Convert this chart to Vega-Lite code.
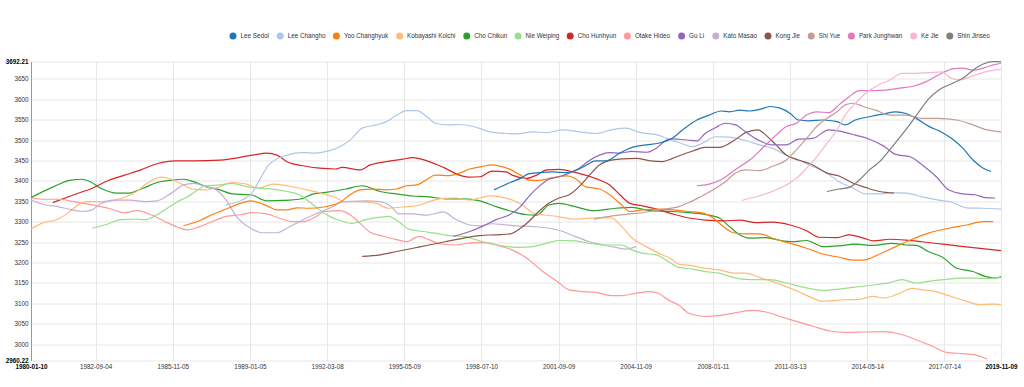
{
"$schema":"https://vega.github.io/schema/vega-lite/v6.json",
"width":970,"height":299,
"autosize":{"type":"none"},
"padding":{"left":31,"top":61.5,"right":23,"bottom":26.5},
"background":"white",
"config":{"view":{"stroke":null},"font":"Liberation Sans"},
"data":{"values":[
{"name":"Cho Chikun","date":"1980-01-10","elo":3359},{"name":"Cho Chikun","date":"1980-12-15","elo":3386},{"name":"Cho Chikun","date":"1981-08-15","elo":3401},{"name":"Cho Chikun","date":"1982-02-15","elo":3404},{"name":"Cho Chikun","date":"1982-06-15","elo":3398},{"name":"Cho Chikun","date":"1982-12-15","elo":3380},{"name":"Cho Chikun","date":"1983-07-15","elo":3370},{"name":"Cho Chikun","date":"1984-01-15","elo":3370},{"name":"Cho Chikun","date":"1984-08-15","elo":3382},{"name":"Cho Chikun","date":"1985-03-15","elo":3396},{"name":"Cho Chikun","date":"1985-09-15","elo":3401},{"name":"Cho Chikun","date":"1986-04-15","elo":3404},{"name":"Cho Chikun","date":"1986-09-15","elo":3398},{"name":"Cho Chikun","date":"1987-03-15","elo":3386},{"name":"Cho Chikun","date":"1987-10-15","elo":3378},{"name":"Cho Chikun","date":"1988-04-15","elo":3368},{"name":"Cho Chikun","date":"1989-01-15","elo":3366},{"name":"Cho Chikun","date":"1989-09-15","elo":3351},{"name":"Cho Chikun","date":"1990-05-15","elo":3352},{"name":"Cho Chikun","date":"1991-01-15","elo":3355},{"name":"Cho Chikun","date":"1991-08-15","elo":3368},{"name":"Cho Chikun","date":"1992-02-15","elo":3372},{"name":"Cho Chikun","date":"1992-12-15","elo":3380},{"name":"Cho Chikun","date":"1993-08-15","elo":3388},{"name":"Cho Chikun","date":"1994-05-15","elo":3374},{"name":"Cho Chikun","date":"1995-01-15","elo":3368},{"name":"Cho Chikun","date":"1995-09-15","elo":3363},{"name":"Cho Chikun","date":"1996-05-15","elo":3361},{"name":"Cho Chikun","date":"1997-01-15","elo":3356},{"name":"Cho Chikun","date":"1997-10-15","elo":3356},{"name":"Cho Chikun","date":"1998-06-15","elo":3351},{"name":"Cho Chikun","date":"1999-02-15","elo":3337},{"name":"Cho Chikun","date":"1999-10-15","elo":3325},{"name":"Cho Chikun","date":"2000-05-15","elo":3317},{"name":"Cho Chikun","date":"2000-10-15","elo":3316},{"name":"Cho Chikun","date":"2001-04-15","elo":3341},{"name":"Cho Chikun","date":"2001-09-15","elo":3345},{"name":"Cho Chikun","date":"2002-05-15","elo":3337},{"name":"Cho Chikun","date":"2003-02-15","elo":3327},{"name":"Cho Chikun","date":"2004-01-15","elo":3333},{"name":"Cho Chikun","date":"2004-09-15","elo":3335},{"name":"Cho Chikun","date":"2005-06-15","elo":3327},{"name":"Cho Chikun","date":"2006-05-15","elo":3325},{"name":"Cho Chikun","date":"2007-01-15","elo":3322},{"name":"Cho Chikun","date":"2007-09-15","elo":3318},{"name":"Cho Chikun","date":"2008-04-15","elo":3309},{"name":"Cho Chikun","date":"2008-09-15","elo":3288},{"name":"Cho Chikun","date":"2009-02-15","elo":3268},{"name":"Cho Chikun","date":"2009-07-15","elo":3260},{"name":"Cho Chikun","date":"2010-03-15","elo":3261},{"name":"Cho Chikun","date":"2010-10-15","elo":3254},{"name":"Cho Chikun","date":"2011-04-15","elo":3251},{"name":"Cho Chikun","date":"2011-11-15","elo":3254},{"name":"Cho Chikun","date":"2012-07-15","elo":3239},{"name":"Cho Chikun","date":"2013-03-15","elo":3241},{"name":"Cho Chikun","date":"2013-11-15","elo":3245},{"name":"Cho Chikun","date":"2014-08-15","elo":3242},{"name":"Cho Chikun","date":"2015-05-15","elo":3247},{"name":"Cho Chikun","date":"2015-12-15","elo":3243},{"name":"Cho Chikun","date":"2016-05-15","elo":3242},{"name":"Cho Chikun","date":"2016-11-15","elo":3227},{"name":"Cho Chikun","date":"2017-06-15","elo":3213},{"name":"Cho Chikun","date":"2018-01-15","elo":3186},{"name":"Cho Chikun","date":"2018-09-15","elo":3178},{"name":"Cho Chikun","date":"2019-03-15","elo":3166},{"name":"Cho Chikun","date":"2019-08-15","elo":3162},{"name":"Cho Chikun","date":"2019-11-09","elo":3166},
{"name":"Cho Hunhyun","date":"1980-12-01","elo":3347},{"name":"Cho Hunhyun","date":"1981-10-15","elo":3366},{"name":"Cho Hunhyun","date":"1982-07-15","elo":3382},{"name":"Cho Hunhyun","date":"1983-03-15","elo":3401},{"name":"Cho Hunhyun","date":"1983-11-15","elo":3414},{"name":"Cho Hunhyun","date":"1984-07-15","elo":3427},{"name":"Cho Hunhyun","date":"1985-03-15","elo":3442},{"name":"Cho Hunhyun","date":"1985-12-15","elo":3449},{"name":"Cho Hunhyun","date":"1986-09-15","elo":3449},{"name":"Cho Hunhyun","date":"1987-10-15","elo":3451},{"name":"Cho Hunhyun","date":"1989-02-15","elo":3463},{"name":"Cho Hunhyun","date":"1989-09-15","elo":3468},{"name":"Cho Hunhyun","date":"1990-02-15","elo":3463},{"name":"Cho Hunhyun","date":"1990-07-15","elo":3447},{"name":"Cho Hunhyun","date":"1991-03-15","elo":3437},{"name":"Cho Hunhyun","date":"1991-11-15","elo":3431},{"name":"Cho Hunhyun","date":"1992-07-15","elo":3429},{"name":"Cho Hunhyun","date":"1992-10-15","elo":3433},{"name":"Cho Hunhyun","date":"1993-07-15","elo":3427},{"name":"Cho Hunhyun","date":"1993-12-15","elo":3439},{"name":"Cho Hunhyun","date":"1994-08-15","elo":3447},{"name":"Cho Hunhyun","date":"1995-04-15","elo":3453},{"name":"Cho Hunhyun","date":"1995-09-15","elo":3457},{"name":"Cho Hunhyun","date":"1996-04-15","elo":3449},{"name":"Cho Hunhyun","date":"1996-12-15","elo":3433},{"name":"Cho Hunhyun","date":"1997-08-15","elo":3414},{"name":"Cho Hunhyun","date":"1998-01-15","elo":3409},{"name":"Cho Hunhyun","date":"1998-06-15","elo":3410},{"name":"Cho Hunhyun","date":"1998-12-15","elo":3424},{"name":"Cho Hunhyun","date":"1999-07-15","elo":3422},{"name":"Cho Hunhyun","date":"1999-10-15","elo":3414},{"name":"Cho Hunhyun","date":"2000-05-15","elo":3406},{"name":"Cho Hunhyun","date":"2000-10-15","elo":3414},{"name":"Cho Hunhyun","date":"2001-03-15","elo":3427},{"name":"Cho Hunhyun","date":"2001-09-15","elo":3428},{"name":"Cho Hunhyun","date":"2002-04-15","elo":3422},{"name":"Cho Hunhyun","date":"2002-10-15","elo":3414},{"name":"Cho Hunhyun","date":"2003-05-15","elo":3402},{"name":"Cho Hunhyun","date":"2003-10-15","elo":3390},{"name":"Cho Hunhyun","date":"2004-03-15","elo":3366},{"name":"Cho Hunhyun","date":"2004-08-15","elo":3345},{"name":"Cho Hunhyun","date":"2005-02-15","elo":3339},{"name":"Cho Hunhyun","date":"2005-09-15","elo":3331},{"name":"Cho Hunhyun","date":"2006-05-15","elo":3319},{"name":"Cho Hunhyun","date":"2007-01-15","elo":3309},{"name":"Cho Hunhyun","date":"2007-09-15","elo":3304},{"name":"Cho Hunhyun","date":"2008-06-15","elo":3302},{"name":"Cho Hunhyun","date":"2009-02-15","elo":3304},{"name":"Cho Hunhyun","date":"2009-10-15","elo":3298},{"name":"Cho Hunhyun","date":"2010-06-15","elo":3299},{"name":"Cho Hunhyun","date":"2011-03-15","elo":3292},{"name":"Cho Hunhyun","date":"2011-11-15","elo":3278},{"name":"Cho Hunhyun","date":"2012-05-15","elo":3262},{"name":"Cho Hunhyun","date":"2013-02-15","elo":3261},{"name":"Cho Hunhyun","date":"2013-08-15","elo":3268},{"name":"Cho Hunhyun","date":"2014-03-15","elo":3260},{"name":"Cho Hunhyun","date":"2014-08-15","elo":3253},{"name":"Cho Hunhyun","date":"2015-04-15","elo":3257},{"name":"Cho Hunhyun","date":"2015-12-15","elo":3255},{"name":"Cho Hunhyun","date":"2016-08-15","elo":3251},{"name":"Cho Hunhyun","date":"2018-01-15","elo":3241},{"name":"Cho Hunhyun","date":"2019-11-09","elo":3229},
{"name":"Otake Hideo","date":"1980-01-10","elo":3358},{"name":"Otake Hideo","date":"1980-08-15","elo":3355},{"name":"Otake Hideo","date":"1981-02-15","elo":3355},{"name":"Otake Hideo","date":"1981-10-15","elo":3349},{"name":"Otake Hideo","date":"1982-07-15","elo":3341},{"name":"Otake Hideo","date":"1983-03-15","elo":3333},{"name":"Otake Hideo","date":"1983-11-15","elo":3322},{"name":"Otake Hideo","date":"1984-05-15","elo":3327},{"name":"Otake Hideo","date":"1984-12-15","elo":3317},{"name":"Otake Hideo","date":"1985-07-15","elo":3300},{"name":"Otake Hideo","date":"1986-01-15","elo":3287},{"name":"Otake Hideo","date":"1986-06-15","elo":3280},{"name":"Otake Hideo","date":"1986-12-15","elo":3288},{"name":"Otake Hideo","date":"1987-06-15","elo":3300},{"name":"Otake Hideo","date":"1988-01-15","elo":3313},{"name":"Otake Hideo","date":"1988-08-15","elo":3317},{"name":"Otake Hideo","date":"1989-02-15","elo":3322},{"name":"Otake Hideo","date":"1989-09-15","elo":3319},{"name":"Otake Hideo","date":"1990-03-15","elo":3309},{"name":"Otake Hideo","date":"1990-10-15","elo":3300},{"name":"Otake Hideo","date":"1991-03-15","elo":3300},{"name":"Otake Hideo","date":"1991-08-15","elo":3309},{"name":"Otake Hideo","date":"1992-02-15","elo":3325},{"name":"Otake Hideo","date":"1992-09-15","elo":3327},{"name":"Otake Hideo","date":"1993-02-15","elo":3317},{"name":"Otake Hideo","date":"1993-07-15","elo":3296},{"name":"Otake Hideo","date":"1993-12-15","elo":3274},{"name":"Otake Hideo","date":"1994-06-15","elo":3265},{"name":"Otake Hideo","date":"1995-01-15","elo":3256},{"name":"Otake Hideo","date":"1995-06-15","elo":3251},{"name":"Otake Hideo","date":"1995-12-15","elo":3264},{"name":"Otake Hideo","date":"1996-05-15","elo":3256},{"name":"Otake Hideo","date":"1996-10-15","elo":3246},{"name":"Otake Hideo","date":"1997-06-15","elo":3243},{"name":"Otake Hideo","date":"1998-03-15","elo":3249},{"name":"Otake Hideo","date":"1998-09-15","elo":3249},{"name":"Otake Hideo","date":"1999-05-15","elo":3239},{"name":"Otake Hideo","date":"1999-09-15","elo":3233},{"name":"Otake Hideo","date":"2000-05-15","elo":3211},{"name":"Otake Hideo","date":"2001-01-15","elo":3178},{"name":"Otake Hideo","date":"2001-08-15","elo":3154},{"name":"Otake Hideo","date":"2002-02-15","elo":3133},{"name":"Otake Hideo","date":"2002-09-15","elo":3129},{"name":"Otake Hideo","date":"2003-03-15","elo":3127},{"name":"Otake Hideo","date":"2003-11-15","elo":3119},{"name":"Otake Hideo","date":"2004-04-15","elo":3119},{"name":"Otake Hideo","date":"2004-11-15","elo":3125},{"name":"Otake Hideo","date":"2005-06-15","elo":3129},{"name":"Otake Hideo","date":"2005-10-15","elo":3125},{"name":"Otake Hideo","date":"2006-03-15","elo":3108},{"name":"Otake Hideo","date":"2006-08-15","elo":3096},{"name":"Otake Hideo","date":"2007-01-15","elo":3076},{"name":"Otake Hideo","date":"2007-09-15","elo":3068},{"name":"Otake Hideo","date":"2008-06-15","elo":3072},{"name":"Otake Hideo","date":"2009-02-15","elo":3079},{"name":"Otake Hideo","date":"2009-08-15","elo":3083},{"name":"Otake Hideo","date":"2010-03-15","elo":3079},{"name":"Otake Hideo","date":"2010-10-15","elo":3068},{"name":"Otake Hideo","date":"2011-06-15","elo":3056},{"name":"Otake Hideo","date":"2012-02-15","elo":3044},{"name":"Otake Hideo","date":"2012-10-15","elo":3033},{"name":"Otake Hideo","date":"2013-06-15","elo":3029},{"name":"Otake Hideo","date":"2014-04-15","elo":3030},{"name":"Otake Hideo","date":"2015-01-15","elo":3031},{"name":"Otake Hideo","date":"2015-09-15","elo":3025},{"name":"Otake Hideo","date":"2016-05-15","elo":3011},{"name":"Otake Hideo","date":"2017-01-15","elo":2995},{"name":"Otake Hideo","date":"2017-08-15","elo":2980},{"name":"Otake Hideo","date":"2018-04-15","elo":2977},{"name":"Otake Hideo","date":"2018-10-15","elo":2974},{"name":"Otake Hideo","date":"2019-04-15","elo":2964},
{"name":"Kobayashi Koichi","date":"1980-01-10","elo":3282},{"name":"Kobayashi Koichi","date":"1980-06-15","elo":3296},{"name":"Kobayashi Koichi","date":"1981-02-15","elo":3306},{"name":"Kobayashi Koichi","date":"1981-07-15","elo":3321},{"name":"Kobayashi Koichi","date":"1981-12-15","elo":3341},{"name":"Kobayashi Koichi","date":"1982-05-15","elo":3349},{"name":"Kobayashi Koichi","date":"1982-11-15","elo":3349},{"name":"Kobayashi Koichi","date":"1983-06-15","elo":3353},{"name":"Kobayashi Koichi","date":"1983-11-15","elo":3360},{"name":"Kobayashi Koichi","date":"1984-05-15","elo":3374},{"name":"Kobayashi Koichi","date":"1984-10-15","elo":3394},{"name":"Kobayashi Koichi","date":"1985-05-15","elo":3409},{"name":"Kobayashi Koichi","date":"1985-10-15","elo":3404},{"name":"Kobayashi Koichi","date":"1986-04-15","elo":3390},{"name":"Kobayashi Koichi","date":"1986-09-15","elo":3379},{"name":"Kobayashi Koichi","date":"1987-03-15","elo":3378},{"name":"Kobayashi Koichi","date":"1987-10-15","elo":3386},{"name":"Kobayashi Koichi","date":"1988-04-15","elo":3396},{"name":"Kobayashi Koichi","date":"1988-11-15","elo":3392},{"name":"Kobayashi Koichi","date":"1989-05-15","elo":3382},{"name":"Kobayashi Koichi","date":"1989-12-15","elo":3392},{"name":"Kobayashi Koichi","date":"1990-07-15","elo":3388},{"name":"Kobayashi Koichi","date":"1991-03-15","elo":3380},{"name":"Kobayashi Koichi","date":"1991-11-15","elo":3371},{"name":"Kobayashi Koichi","date":"1992-06-15","elo":3361},{"name":"Kobayashi Koichi","date":"1992-12-15","elo":3349},{"name":"Kobayashi Koichi","date":"1993-08-15","elo":3349},{"name":"Kobayashi Koichi","date":"1994-03-15","elo":3345},{"name":"Kobayashi Koichi","date":"1994-09-15","elo":3333},{"name":"Kobayashi Koichi","date":"1995-04-15","elo":3336},{"name":"Kobayashi Koichi","date":"1995-11-15","elo":3339},{"name":"Kobayashi Koichi","date":"1996-05-15","elo":3349},{"name":"Kobayashi Koichi","date":"1996-12-15","elo":3357},{"name":"Kobayashi Koichi","date":"1997-06-15","elo":3358},{"name":"Kobayashi Koichi","date":"1998-01-15","elo":3353},{"name":"Kobayashi Koichi","date":"1998-06-15","elo":3358},{"name":"Kobayashi Koichi","date":"1998-11-15","elo":3363},{"name":"Kobayashi Koichi","date":"1999-04-15","elo":3361},{"name":"Kobayashi Koichi","date":"1999-10-15","elo":3353},{"name":"Kobayashi Koichi","date":"2000-03-15","elo":3341},{"name":"Kobayashi Koichi","date":"2000-08-15","elo":3322},{"name":"Kobayashi Koichi","date":"2001-01-15","elo":3317},{"name":"Kobayashi Koichi","date":"2001-08-15","elo":3313},{"name":"Kobayashi Koichi","date":"2002-05-15","elo":3306},{"name":"Kobayashi Koichi","date":"2002-12-15","elo":3309},{"name":"Kobayashi Koichi","date":"2003-07-15","elo":3310},{"name":"Kobayashi Koichi","date":"2003-11-15","elo":3309},{"name":"Kobayashi Koichi","date":"2004-04-15","elo":3288},{"name":"Kobayashi Koichi","date":"2004-09-15","elo":3260},{"name":"Kobayashi Koichi","date":"2005-04-15","elo":3239},{"name":"Kobayashi Koichi","date":"2005-10-15","elo":3223},{"name":"Kobayashi Koichi","date":"2006-05-15","elo":3207},{"name":"Kobayashi Koichi","date":"2006-08-15","elo":3196},{"name":"Kobayashi Koichi","date":"2007-03-15","elo":3192},{"name":"Kobayashi Koichi","date":"2007-09-15","elo":3186},{"name":"Kobayashi Koichi","date":"2008-04-15","elo":3182},{"name":"Kobayashi Koichi","date":"2008-11-15","elo":3174},{"name":"Kobayashi Koichi","date":"2009-05-15","elo":3174},{"name":"Kobayashi Koichi","date":"2009-12-15","elo":3163},{"name":"Kobayashi Koichi","date":"2010-06-15","elo":3154},{"name":"Kobayashi Koichi","date":"2011-01-15","elo":3141},{"name":"Kobayashi Koichi","date":"2011-07-15","elo":3129},{"name":"Kobayashi Koichi","date":"2012-02-15","elo":3113},{"name":"Kobayashi Koichi","date":"2012-07-15","elo":3105},{"name":"Kobayashi Koichi","date":"2012-12-15","elo":3107},{"name":"Kobayashi Koichi","date":"2013-06-15","elo":3109},{"name":"Kobayashi Koichi","date":"2014-01-15","elo":3110},{"name":"Kobayashi Koichi","date":"2014-08-15","elo":3117},{"name":"Kobayashi Koichi","date":"2015-01-15","elo":3113},{"name":"Kobayashi Koichi","date":"2015-09-15","elo":3125},{"name":"Kobayashi Koichi","date":"2016-03-15","elo":3137},{"name":"Kobayashi Koichi","date":"2016-08-15","elo":3133},{"name":"Kobayashi Koichi","date":"2017-03-15","elo":3129},{"name":"Kobayashi Koichi","date":"2017-09-15","elo":3119},{"name":"Kobayashi Koichi","date":"2018-06-15","elo":3105},{"name":"Kobayashi Koichi","date":"2018-12-15","elo":3097},{"name":"Kobayashi Koichi","date":"2019-07-15","elo":3098},{"name":"Kobayashi Koichi","date":"2019-11-09","elo":3097},
{"name":"Kato Masao","date":"1980-01-10","elo":3353},{"name":"Kato Masao","date":"1980-08-15","elo":3341},{"name":"Kato Masao","date":"1981-02-15","elo":3337},{"name":"Kato Masao","date":"1981-09-15","elo":3329},{"name":"Kato Masao","date":"1982-02-15","elo":3325},{"name":"Kato Masao","date":"1982-07-15","elo":3329},{"name":"Kato Masao","date":"1982-11-15","elo":3344},{"name":"Kato Masao","date":"1983-06-15","elo":3353},{"name":"Kato Masao","date":"1984-02-15","elo":3353},{"name":"Kato Masao","date":"1984-09-15","elo":3349},{"name":"Kato Masao","date":"1985-03-15","elo":3351},{"name":"Kato Masao","date":"1985-10-15","elo":3370},{"name":"Kato Masao","date":"1986-04-15","elo":3390},{"name":"Kato Masao","date":"1986-09-15","elo":3394},{"name":"Kato Masao","date":"1987-03-15","elo":3386},{"name":"Kato Masao","date":"1987-08-15","elo":3378},{"name":"Kato Masao","date":"1988-01-15","elo":3353},{"name":"Kato Masao","date":"1988-06-15","elo":3313},{"name":"Kato Masao","date":"1989-01-15","elo":3284},{"name":"Kato Masao","date":"1989-07-15","elo":3273},{"name":"Kato Masao","date":"1990-02-15","elo":3273},{"name":"Kato Masao","date":"1990-08-15","elo":3287},{"name":"Kato Masao","date":"1991-03-15","elo":3305},{"name":"Kato Masao","date":"1991-09-15","elo":3319},{"name":"Kato Masao","date":"1992-04-15","elo":3333},{"name":"Kato Masao","date":"1992-10-15","elo":3348},{"name":"Kato Masao","date":"1993-03-15","elo":3350},{"name":"Kato Masao","date":"1993-10-15","elo":3351},{"name":"Kato Masao","date":"1994-05-15","elo":3349},{"name":"Kato Masao","date":"1994-11-15","elo":3334},{"name":"Kato Masao","date":"1995-02-15","elo":3319},{"name":"Kato Masao","date":"1995-09-15","elo":3319},{"name":"Kato Masao","date":"1996-04-15","elo":3316},{"name":"Kato Masao","date":"1996-12-15","elo":3324},{"name":"Kato Masao","date":"1997-06-15","elo":3306},{"name":"Kato Masao","date":"1998-01-15","elo":3292},{"name":"Kato Masao","date":"1998-06-15","elo":3290},{"name":"Kato Masao","date":"1998-12-15","elo":3295},{"name":"Kato Masao","date":"1999-07-15","elo":3292},{"name":"Kato Masao","date":"1999-12-15","elo":3290},{"name":"Kato Masao","date":"2000-08-15","elo":3288},{"name":"Kato Masao","date":"2001-04-15","elo":3284},{"name":"Kato Masao","date":"2001-11-15","elo":3276},{"name":"Kato Masao","date":"2002-05-15","elo":3264},{"name":"Kato Masao","date":"2002-12-15","elo":3251},{"name":"Kato Masao","date":"2003-07-15","elo":3243},{"name":"Kato Masao","date":"2004-01-15","elo":3237},{"name":"Kato Masao","date":"2004-06-15","elo":3233},{"name":"Kato Masao","date":"2004-11-15","elo":3239},
{"name":"Nie Weiping","date":"1982-07-15","elo":3284},{"name":"Nie Weiping","date":"1983-03-15","elo":3295},{"name":"Nie Weiping","date":"1983-09-15","elo":3305},{"name":"Nie Weiping","date":"1984-04-15","elo":3306},{"name":"Nie Weiping","date":"1984-09-15","elo":3305},{"name":"Nie Weiping","date":"1985-03-15","elo":3317},{"name":"Nie Weiping","date":"1985-08-15","elo":3333},{"name":"Nie Weiping","date":"1986-01-15","elo":3349},{"name":"Nie Weiping","date":"1986-06-15","elo":3361},{"name":"Nie Weiping","date":"1986-09-15","elo":3371},{"name":"Nie Weiping","date":"1987-03-15","elo":3388},{"name":"Nie Weiping","date":"1987-10-15","elo":3390},{"name":"Nie Weiping","date":"1988-04-15","elo":3394},{"name":"Nie Weiping","date":"1988-11-15","elo":3386},{"name":"Nie Weiping","date":"1989-05-15","elo":3382},{"name":"Nie Weiping","date":"1989-12-15","elo":3380},{"name":"Nie Weiping","date":"1990-07-15","elo":3374},{"name":"Nie Weiping","date":"1991-01-15","elo":3366},{"name":"Nie Weiping","date":"1991-06-15","elo":3349},{"name":"Nie Weiping","date":"1991-11-15","elo":3329},{"name":"Nie Weiping","date":"1992-04-15","elo":3313},{"name":"Nie Weiping","date":"1992-09-15","elo":3303},{"name":"Nie Weiping","date":"1993-03-15","elo":3296},{"name":"Nie Weiping","date":"1993-10-15","elo":3305},{"name":"Nie Weiping","date":"1994-05-15","elo":3311},{"name":"Nie Weiping","date":"1994-09-15","elo":3313},{"name":"Nie Weiping","date":"1995-02-15","elo":3300},{"name":"Nie Weiping","date":"1995-07-15","elo":3282},{"name":"Nie Weiping","date":"1996-02-15","elo":3276},{"name":"Nie Weiping","date":"1996-08-15","elo":3272},{"name":"Nie Weiping","date":"1997-03-15","elo":3266},{"name":"Nie Weiping","date":"1997-10-15","elo":3264},{"name":"Nie Weiping","date":"1998-04-15","elo":3256},{"name":"Nie Weiping","date":"1998-11-15","elo":3246},{"name":"Nie Weiping","date":"1999-05-15","elo":3241},{"name":"Nie Weiping","date":"2000-02-15","elo":3237},{"name":"Nie Weiping","date":"2000-08-15","elo":3239},{"name":"Nie Weiping","date":"2001-04-15","elo":3249},{"name":"Nie Weiping","date":"2001-09-15","elo":3254},{"name":"Nie Weiping","date":"2002-05-15","elo":3253},{"name":"Nie Weiping","date":"2002-12-15","elo":3247},{"name":"Nie Weiping","date":"2003-08-15","elo":3243},{"name":"Nie Weiping","date":"2004-04-15","elo":3243},{"name":"Nie Weiping","date":"2004-09-15","elo":3231},{"name":"Nie Weiping","date":"2005-02-15","elo":3223},{"name":"Nie Weiping","date":"2005-09-15","elo":3219},{"name":"Nie Weiping","date":"2006-03-15","elo":3202},{"name":"Nie Weiping","date":"2006-08-15","elo":3188},{"name":"Nie Weiping","date":"2007-03-15","elo":3184},{"name":"Nie Weiping","date":"2007-09-15","elo":3178},{"name":"Nie Weiping","date":"2008-04-15","elo":3174},{"name":"Nie Weiping","date":"2008-12-15","elo":3162},{"name":"Nie Weiping","date":"2009-08-15","elo":3158},{"name":"Nie Weiping","date":"2010-05-15","elo":3158},{"name":"Nie Weiping","date":"2011-01-15","elo":3150},{"name":"Nie Weiping","date":"2011-09-15","elo":3140},{"name":"Nie Weiping","date":"2012-07-15","elo":3132},{"name":"Nie Weiping","date":"2013-03-15","elo":3135},{"name":"Nie Weiping","date":"2013-11-15","elo":3140},{"name":"Nie Weiping","date":"2014-08-15","elo":3145},{"name":"Nie Weiping","date":"2015-04-15","elo":3151},{"name":"Nie Weiping","date":"2015-10-15","elo":3158},{"name":"Nie Weiping","date":"2016-05-15","elo":3150},{"name":"Nie Weiping","date":"2016-11-15","elo":3154},{"name":"Nie Weiping","date":"2017-08-15","elo":3159},{"name":"Nie Weiping","date":"2018-02-15","elo":3162},{"name":"Nie Weiping","date":"2018-09-15","elo":3162},{"name":"Nie Weiping","date":"2019-05-15","elo":3161},{"name":"Nie Weiping","date":"2019-11-09","elo":3163},
{"name":"Lee Changho","date":"1988-01-15","elo":3341},{"name":"Lee Changho","date":"1989-01-15","elo":3366},{"name":"Lee Changho","date":"1989-05-15","elo":3398},{"name":"Lee Changho","date":"1989-10-15","elo":3439},{"name":"Lee Changho","date":"1990-07-15","elo":3463},{"name":"Lee Changho","date":"1991-03-15","elo":3469},{"name":"Lee Changho","date":"1991-09-15","elo":3468},{"name":"Lee Changho","date":"1992-04-15","elo":3474},{"name":"Lee Changho","date":"1992-10-15","elo":3486},{"name":"Lee Changho","date":"1993-03-15","elo":3504},{"name":"Lee Changho","date":"1993-08-15","elo":3529},{"name":"Lee Changho","date":"1994-03-15","elo":3537},{"name":"Lee Changho","date":"1994-08-15","elo":3545},{"name":"Lee Changho","date":"1995-01-15","elo":3561},{"name":"Lee Changho","date":"1995-06-15","elo":3572},{"name":"Lee Changho","date":"1995-11-15","elo":3572},{"name":"Lee Changho","date":"1996-04-15","elo":3557},{"name":"Lee Changho","date":"1996-08-15","elo":3541},{"name":"Lee Changho","date":"1997-03-15","elo":3537},{"name":"Lee Changho","date":"1997-08-15","elo":3538},{"name":"Lee Changho","date":"1998-03-15","elo":3533},{"name":"Lee Changho","date":"1998-11-15","elo":3520},{"name":"Lee Changho","date":"1999-07-15","elo":3516},{"name":"Lee Changho","date":"1999-12-15","elo":3515},{"name":"Lee Changho","date":"2000-08-15","elo":3520},{"name":"Lee Changho","date":"2001-03-15","elo":3518},{"name":"Lee Changho","date":"2001-11-15","elo":3525},{"name":"Lee Changho","date":"2002-07-15","elo":3520},{"name":"Lee Changho","date":"2003-03-15","elo":3516},{"name":"Lee Changho","date":"2003-11-15","elo":3525},{"name":"Lee Changho","date":"2004-06-15","elo":3529},{"name":"Lee Changho","date":"2005-01-15","elo":3518},{"name":"Lee Changho","date":"2005-09-15","elo":3513},{"name":"Lee Changho","date":"2006-02-15","elo":3504},{"name":"Lee Changho","date":"2006-08-15","elo":3494},{"name":"Lee Changho","date":"2007-03-15","elo":3484},{"name":"Lee Changho","date":"2007-09-15","elo":3496},{"name":"Lee Changho","date":"2008-02-15","elo":3508},{"name":"Lee Changho","date":"2008-09-15","elo":3507},{"name":"Lee Changho","date":"2009-04-15","elo":3500},{"name":"Lee Changho","date":"2009-12-15","elo":3488},{"name":"Lee Changho","date":"2010-06-15","elo":3480},{"name":"Lee Changho","date":"2011-01-15","elo":3463},{"name":"Lee Changho","date":"2011-07-15","elo":3451},{"name":"Lee Changho","date":"2012-02-15","elo":3435},{"name":"Lee Changho","date":"2012-09-15","elo":3419},{"name":"Lee Changho","date":"2013-03-15","elo":3398},{"name":"Lee Changho","date":"2013-10-15","elo":3382},{"name":"Lee Changho","date":"2014-04-15","elo":3368},{"name":"Lee Changho","date":"2014-11-15","elo":3368},{"name":"Lee Changho","date":"2015-05-15","elo":3371},{"name":"Lee Changho","date":"2015-12-15","elo":3370},{"name":"Lee Changho","date":"2016-08-15","elo":3361},{"name":"Lee Changho","date":"2017-04-15","elo":3353},{"name":"Lee Changho","date":"2017-11-15","elo":3347},{"name":"Lee Changho","date":"2018-06-15","elo":3334},{"name":"Lee Changho","date":"2019-02-15","elo":3333},{"name":"Lee Changho","date":"2019-11-09","elo":3331},
{"name":"Yoo Changhyuk","date":"1986-04-15","elo":3290},{"name":"Yoo Changhyuk","date":"1986-12-15","elo":3303},{"name":"Yoo Changhyuk","date":"1987-06-15","elo":3317},{"name":"Yoo Changhyuk","date":"1988-01-15","elo":3331},{"name":"Yoo Changhyuk","date":"1988-08-15","elo":3345},{"name":"Yoo Changhyuk","date":"1989-01-15","elo":3351},{"name":"Yoo Changhyuk","date":"1989-05-15","elo":3347},{"name":"Yoo Changhyuk","date":"1989-10-15","elo":3337},{"name":"Yoo Changhyuk","date":"1990-02-15","elo":3329},{"name":"Yoo Changhyuk","date":"1990-07-15","elo":3329},{"name":"Yoo Changhyuk","date":"1990-12-15","elo":3334},{"name":"Yoo Changhyuk","date":"1991-06-15","elo":3333},{"name":"Yoo Changhyuk","date":"1992-01-15","elo":3336},{"name":"Yoo Changhyuk","date":"1992-04-15","elo":3339},{"name":"Yoo Changhyuk","date":"1992-09-15","elo":3347},{"name":"Yoo Changhyuk","date":"1993-02-15","elo":3366},{"name":"Yoo Changhyuk","date":"1993-07-15","elo":3378},{"name":"Yoo Changhyuk","date":"1994-01-15","elo":3380},{"name":"Yoo Changhyuk","date":"1994-08-15","elo":3378},{"name":"Yoo Changhyuk","date":"1995-01-15","elo":3380},{"name":"Yoo Changhyuk","date":"1995-06-15","elo":3388},{"name":"Yoo Changhyuk","date":"1995-11-15","elo":3390},{"name":"Yoo Changhyuk","date":"1996-04-15","elo":3404},{"name":"Yoo Changhyuk","date":"1996-08-15","elo":3414},{"name":"Yoo Changhyuk","date":"1997-03-15","elo":3413},{"name":"Yoo Changhyuk","date":"1997-08-15","elo":3419},{"name":"Yoo Changhyuk","date":"1998-01-15","elo":3429},{"name":"Yoo Changhyuk","date":"1998-07-15","elo":3435},{"name":"Yoo Changhyuk","date":"1998-12-15","elo":3439},{"name":"Yoo Changhyuk","date":"1999-05-15","elo":3435},{"name":"Yoo Changhyuk","date":"1999-09-15","elo":3428},{"name":"Yoo Changhyuk","date":"2000-02-15","elo":3414},{"name":"Yoo Changhyuk","date":"2000-06-15","elo":3402},{"name":"Yoo Changhyuk","date":"2000-11-15","elo":3401},{"name":"Yoo Changhyuk","date":"2001-06-15","elo":3408},{"name":"Yoo Changhyuk","date":"2002-01-15","elo":3412},{"name":"Yoo Changhyuk","date":"2002-05-15","elo":3406},{"name":"Yoo Changhyuk","date":"2002-10-15","elo":3386},{"name":"Yoo Changhyuk","date":"2003-05-15","elo":3380},{"name":"Yoo Changhyuk","date":"2003-10-15","elo":3366},{"name":"Yoo Changhyuk","date":"2004-03-15","elo":3345},{"name":"Yoo Changhyuk","date":"2004-08-15","elo":3325},{"name":"Yoo Changhyuk","date":"2005-02-15","elo":3329},{"name":"Yoo Changhyuk","date":"2005-10-15","elo":3331},{"name":"Yoo Changhyuk","date":"2006-05-15","elo":3329},{"name":"Yoo Changhyuk","date":"2007-01-15","elo":3325},{"name":"Yoo Changhyuk","date":"2007-08-15","elo":3321},{"name":"Yoo Changhyuk","date":"2008-01-15","elo":3309},{"name":"Yoo Changhyuk","date":"2008-06-15","elo":3288},{"name":"Yoo Changhyuk","date":"2008-11-15","elo":3273},{"name":"Yoo Changhyuk","date":"2009-05-15","elo":3270},{"name":"Yoo Changhyuk","date":"2009-12-15","elo":3270},{"name":"Yoo Changhyuk","date":"2010-06-15","elo":3260},{"name":"Yoo Changhyuk","date":"2011-03-15","elo":3247},{"name":"Yoo Changhyuk","date":"2011-11-15","elo":3235},{"name":"Yoo Changhyuk","date":"2012-07-15","elo":3221},{"name":"Yoo Changhyuk","date":"2013-03-15","elo":3213},{"name":"Yoo Changhyuk","date":"2013-10-15","elo":3206},{"name":"Yoo Changhyuk","date":"2014-03-15","elo":3206},{"name":"Yoo Changhyuk","date":"2014-11-15","elo":3221},{"name":"Yoo Changhyuk","date":"2015-07-15","elo":3239},{"name":"Yoo Changhyuk","date":"2016-03-15","elo":3257},{"name":"Yoo Changhyuk","date":"2016-11-15","elo":3272},{"name":"Yoo Changhyuk","date":"2017-09-15","elo":3284},{"name":"Yoo Changhyuk","date":"2018-06-15","elo":3292},{"name":"Yoo Changhyuk","date":"2019-02-15","elo":3300},{"name":"Yoo Changhyuk","date":"2019-07-15","elo":3300},
{"name":"Kong Jie","date":"1993-08-15","elo":3215},{"name":"Kong Jie","date":"1994-05-15","elo":3219},{"name":"Kong Jie","date":"1995-01-15","elo":3227},{"name":"Kong Jie","date":"1995-09-15","elo":3235},{"name":"Kong Jie","date":"1996-05-15","elo":3243},{"name":"Kong Jie","date":"1997-01-15","elo":3251},{"name":"Kong Jie","date":"1997-10-15","elo":3260},{"name":"Kong Jie","date":"1998-06-15","elo":3266},{"name":"Kong Jie","date":"1999-02-15","elo":3268},{"name":"Kong Jie","date":"1999-09-15","elo":3270},{"name":"Kong Jie","date":"2000-02-15","elo":3284},{"name":"Kong Jie","date":"2000-06-15","elo":3300},{"name":"Kong Jie","date":"2000-11-15","elo":3325},{"name":"Kong Jie","date":"2001-04-15","elo":3345},{"name":"Kong Jie","date":"2001-09-15","elo":3358},{"name":"Kong Jie","date":"2002-02-15","elo":3366},{"name":"Kong Jie","date":"2002-07-15","elo":3386},{"name":"Kong Jie","date":"2002-12-15","elo":3414},{"name":"Kong Jie","date":"2003-05-15","elo":3439},{"name":"Kong Jie","date":"2003-10-15","elo":3450},{"name":"Kong Jie","date":"2004-04-15","elo":3454},{"name":"Kong Jie","date":"2004-11-15","elo":3455},{"name":"Kong Jie","date":"2005-06-15","elo":3449},{"name":"Kong Jie","date":"2005-12-15","elo":3447},{"name":"Kong Jie","date":"2006-05-15","elo":3455},{"name":"Kong Jie","date":"2006-08-15","elo":3461},{"name":"Kong Jie","date":"2007-03-15","elo":3473},{"name":"Kong Jie","date":"2007-09-15","elo":3482},{"name":"Kong Jie","date":"2008-04-15","elo":3482},{"name":"Kong Jie","date":"2008-11-15","elo":3498},{"name":"Kong Jie","date":"2009-05-15","elo":3518},{"name":"Kong Jie","date":"2009-11-15","elo":3525},{"name":"Kong Jie","date":"2010-03-15","elo":3512},{"name":"Kong Jie","date":"2010-08-15","elo":3488},{"name":"Kong Jie","date":"2011-01-15","elo":3463},{"name":"Kong Jie","date":"2011-07-15","elo":3451},{"name":"Kong Jie","date":"2012-02-15","elo":3439},{"name":"Kong Jie","date":"2012-09-15","elo":3419},{"name":"Kong Jie","date":"2013-03-15","elo":3412},{"name":"Kong Jie","date":"2013-10-15","elo":3394},{"name":"Kong Jie","date":"2014-04-15","elo":3384},{"name":"Kong Jie","date":"2014-11-15","elo":3374},{"name":"Kong Jie","date":"2015-06-15","elo":3370},
{"name":"Gu Li","date":"1997-05-15","elo":3264},{"name":"Gu Li","date":"1998-01-15","elo":3276},{"name":"Gu Li","date":"1998-07-15","elo":3288},{"name":"Gu Li","date":"1999-02-15","elo":3305},{"name":"Gu Li","date":"1999-09-15","elo":3318},{"name":"Gu Li","date":"2000-02-15","elo":3337},{"name":"Gu Li","date":"2000-06-15","elo":3361},{"name":"Gu Li","date":"2000-11-15","elo":3386},{"name":"Gu Li","date":"2001-04-15","elo":3404},{"name":"Gu Li","date":"2001-09-15","elo":3410},{"name":"Gu Li","date":"2002-02-15","elo":3419},{"name":"Gu Li","date":"2002-07-15","elo":3431},{"name":"Gu Li","date":"2002-12-15","elo":3450},{"name":"Gu Li","date":"2003-05-15","elo":3463},{"name":"Gu Li","date":"2003-10-15","elo":3469},{"name":"Gu Li","date":"2004-03-15","elo":3468},{"name":"Gu Li","date":"2004-09-15","elo":3472},{"name":"Gu Li","date":"2005-04-15","elo":3470},{"name":"Gu Li","date":"2005-09-15","elo":3480},{"name":"Gu Li","date":"2006-02-15","elo":3500},{"name":"Gu Li","date":"2006-05-15","elo":3503},{"name":"Gu Li","date":"2006-12-15","elo":3500},{"name":"Gu Li","date":"2007-05-15","elo":3498},{"name":"Gu Li","date":"2007-09-15","elo":3516},{"name":"Gu Li","date":"2008-02-15","elo":3530},{"name":"Gu Li","date":"2008-07-15","elo":3541},{"name":"Gu Li","date":"2008-12-15","elo":3537},{"name":"Gu Li","date":"2009-05-15","elo":3520},{"name":"Gu Li","date":"2009-12-15","elo":3498},{"name":"Gu Li","date":"2010-06-15","elo":3488},{"name":"Gu Li","date":"2011-01-15","elo":3488},{"name":"Gu Li","date":"2011-07-15","elo":3502},{"name":"Gu Li","date":"2012-02-15","elo":3504},{"name":"Gu Li","date":"2012-10-15","elo":3525},{"name":"Gu Li","date":"2013-05-15","elo":3520},{"name":"Gu Li","date":"2013-11-15","elo":3512},{"name":"Gu Li","date":"2014-06-15","elo":3502},{"name":"Gu Li","date":"2015-01-15","elo":3485},{"name":"Gu Li","date":"2015-07-15","elo":3465},{"name":"Gu Li","date":"2016-02-15","elo":3459},{"name":"Gu Li","date":"2016-08-15","elo":3439},{"name":"Gu Li","date":"2017-03-15","elo":3410},{"name":"Gu Li","date":"2017-09-15","elo":3378},{"name":"Gu Li","date":"2018-04-15","elo":3368},{"name":"Gu Li","date":"2018-10-15","elo":3366},{"name":"Gu Li","date":"2019-03-15","elo":3359},{"name":"Gu Li","date":"2019-08-15","elo":3358},
{"name":"Lee Sedol","date":"1999-01-15","elo":3378},{"name":"Lee Sedol","date":"1999-09-15","elo":3396},{"name":"Lee Sedol","date":"2000-02-15","elo":3406},{"name":"Lee Sedol","date":"2000-06-15","elo":3417},{"name":"Lee Sedol","date":"2000-11-15","elo":3420},{"name":"Lee Sedol","date":"2001-06-15","elo":3422},{"name":"Lee Sedol","date":"2002-01-15","elo":3420},{"name":"Lee Sedol","date":"2002-05-15","elo":3425},{"name":"Lee Sedol","date":"2002-10-15","elo":3437},{"name":"Lee Sedol","date":"2003-03-15","elo":3449},{"name":"Lee Sedol","date":"2003-08-15","elo":3449},{"name":"Lee Sedol","date":"2004-03-15","elo":3468},{"name":"Lee Sedol","date":"2004-09-15","elo":3482},{"name":"Lee Sedol","date":"2005-04-15","elo":3488},{"name":"Lee Sedol","date":"2005-10-15","elo":3492},{"name":"Lee Sedol","date":"2006-05-15","elo":3505},{"name":"Lee Sedol","date":"2006-10-15","elo":3525},{"name":"Lee Sedol","date":"2007-05-15","elo":3549},{"name":"Lee Sedol","date":"2007-11-15","elo":3561},{"name":"Lee Sedol","date":"2008-05-15","elo":3571},{"name":"Lee Sedol","date":"2008-09-15","elo":3569},{"name":"Lee Sedol","date":"2009-02-15","elo":3573},{"name":"Lee Sedol","date":"2009-07-15","elo":3571},{"name":"Lee Sedol","date":"2009-12-15","elo":3575},{"name":"Lee Sedol","date":"2010-05-15","elo":3582},{"name":"Lee Sedol","date":"2010-10-15","elo":3578},{"name":"Lee Sedol","date":"2011-03-15","elo":3565},{"name":"Lee Sedol","date":"2011-07-15","elo":3549},{"name":"Lee Sedol","date":"2011-12-15","elo":3547},{"name":"Lee Sedol","date":"2012-07-15","elo":3549},{"name":"Lee Sedol","date":"2013-02-15","elo":3545},{"name":"Lee Sedol","date":"2013-06-15","elo":3537},{"name":"Lee Sedol","date":"2013-11-15","elo":3549},{"name":"Lee Sedol","date":"2014-06-15","elo":3557},{"name":"Lee Sedol","date":"2015-01-15","elo":3564},{"name":"Lee Sedol","date":"2015-07-15","elo":3569},{"name":"Lee Sedol","date":"2015-12-15","elo":3565},{"name":"Lee Sedol","date":"2016-05-15","elo":3553},{"name":"Lee Sedol","date":"2016-11-15","elo":3534},{"name":"Lee Sedol","date":"2017-06-15","elo":3518},{"name":"Lee Sedol","date":"2017-11-15","elo":3502},{"name":"Lee Sedol","date":"2018-04-15","elo":3480},{"name":"Lee Sedol","date":"2018-09-15","elo":3451},{"name":"Lee Sedol","date":"2019-02-15","elo":3431},{"name":"Lee Sedol","date":"2019-06-15","elo":3423},
{"name":"Shi Yue","date":"2003-02-15","elo":3306},{"name":"Shi Yue","date":"2003-10-15","elo":3313},{"name":"Shi Yue","date":"2004-06-15","elo":3318},{"name":"Shi Yue","date":"2005-02-15","elo":3322},{"name":"Shi Yue","date":"2005-10-15","elo":3329},{"name":"Shi Yue","date":"2006-08-15","elo":3337},{"name":"Shi Yue","date":"2007-01-15","elo":3347},{"name":"Shi Yue","date":"2007-06-15","elo":3359},{"name":"Shi Yue","date":"2008-01-15","elo":3378},{"name":"Shi Yue","date":"2008-07-15","elo":3398},{"name":"Shi Yue","date":"2008-12-15","elo":3419},{"name":"Shi Yue","date":"2009-05-15","elo":3427},{"name":"Shi Yue","date":"2009-12-15","elo":3425},{"name":"Shi Yue","date":"2010-06-15","elo":3435},{"name":"Shi Yue","date":"2011-01-15","elo":3451},{"name":"Shi Yue","date":"2011-06-15","elo":3476},{"name":"Shi Yue","date":"2011-11-15","elo":3504},{"name":"Shi Yue","date":"2012-04-15","elo":3533},{"name":"Shi Yue","date":"2012-09-15","elo":3553},{"name":"Shi Yue","date":"2013-02-15","elo":3569},{"name":"Shi Yue","date":"2013-06-15","elo":3586},{"name":"Shi Yue","date":"2013-10-15","elo":3590},{"name":"Shi Yue","date":"2014-03-15","elo":3582},{"name":"Shi Yue","date":"2014-09-15","elo":3573},{"name":"Shi Yue","date":"2015-04-15","elo":3561},{"name":"Shi Yue","date":"2015-12-15","elo":3561},{"name":"Shi Yue","date":"2016-08-15","elo":3553},{"name":"Shi Yue","date":"2017-04-15","elo":3553},{"name":"Shi Yue","date":"2018-01-15","elo":3549},{"name":"Shi Yue","date":"2018-09-15","elo":3537},{"name":"Shi Yue","date":"2019-03-15","elo":3526},{"name":"Shi Yue","date":"2019-11-09","elo":3520},
{"name":"Park Junghwan","date":"2007-05-15","elo":3388},{"name":"Park Junghwan","date":"2007-11-15","elo":3392},{"name":"Park Junghwan","date":"2008-06-15","elo":3406},{"name":"Park Junghwan","date":"2008-12-15","elo":3428},{"name":"Park Junghwan","date":"2009-07-15","elo":3451},{"name":"Park Junghwan","date":"2010-02-15","elo":3484},{"name":"Park Junghwan","date":"2010-08-15","elo":3512},{"name":"Park Junghwan","date":"2011-01-15","elo":3533},{"name":"Park Junghwan","date":"2011-06-15","elo":3541},{"name":"Park Junghwan","date":"2011-11-15","elo":3561},{"name":"Park Junghwan","date":"2012-04-15","elo":3569},{"name":"Park Junghwan","date":"2012-10-15","elo":3567},{"name":"Park Junghwan","date":"2013-03-15","elo":3586},{"name":"Park Junghwan","date":"2013-08-15","elo":3606},{"name":"Park Junghwan","date":"2014-01-15","elo":3621},{"name":"Park Junghwan","date":"2014-08-15","elo":3621},{"name":"Park Junghwan","date":"2015-02-15","elo":3622},{"name":"Park Junghwan","date":"2015-09-15","elo":3627},{"name":"Park Junghwan","date":"2016-03-15","elo":3631},{"name":"Park Junghwan","date":"2016-10-15","elo":3643},{"name":"Park Junghwan","date":"2017-04-15","elo":3659},{"name":"Park Junghwan","date":"2017-11-15","elo":3674},{"name":"Park Junghwan","date":"2018-04-15","elo":3676},{"name":"Park Junghwan","date":"2018-09-15","elo":3671},{"name":"Park Junghwan","date":"2019-02-15","elo":3676},{"name":"Park Junghwan","date":"2019-07-15","elo":3684},{"name":"Park Junghwan","date":"2019-11-09","elo":3688},
{"name":"Ke Jie","date":"2009-03-15","elo":3352},{"name":"Ke Jie","date":"2009-10-15","elo":3361},{"name":"Ke Jie","date":"2010-06-15","elo":3374},{"name":"Ke Jie","date":"2011-01-15","elo":3390},{"name":"Ke Jie","date":"2011-06-15","elo":3406},{"name":"Ke Jie","date":"2011-11-15","elo":3431},{"name":"Ke Jie","date":"2012-04-15","elo":3459},{"name":"Ke Jie","date":"2012-09-15","elo":3492},{"name":"Ke Jie","date":"2013-02-15","elo":3525},{"name":"Ke Jie","date":"2013-06-15","elo":3561},{"name":"Ke Jie","date":"2013-11-15","elo":3590},{"name":"Ke Jie","date":"2014-04-15","elo":3614},{"name":"Ke Jie","date":"2014-09-15","elo":3631},{"name":"Ke Jie","date":"2015-04-15","elo":3647},{"name":"Ke Jie","date":"2015-10-15","elo":3663},{"name":"Ke Jie","date":"2016-05-15","elo":3663},{"name":"Ke Jie","date":"2016-11-15","elo":3665},{"name":"Ke Jie","date":"2017-06-15","elo":3667},{"name":"Ke Jie","date":"2017-09-15","elo":3655},{"name":"Ke Jie","date":"2018-02-15","elo":3647},{"name":"Ke Jie","date":"2018-09-15","elo":3657},{"name":"Ke Jie","date":"2019-03-15","elo":3667},{"name":"Ke Jie","date":"2019-11-09","elo":3673},
{"name":"Shin Jinseo","date":"2012-09-15","elo":3374},{"name":"Shin Jinseo","date":"2013-03-15","elo":3380},{"name":"Shin Jinseo","date":"2013-08-15","elo":3384},{"name":"Shin Jinseo","date":"2014-01-15","elo":3402},{"name":"Shin Jinseo","date":"2014-06-15","elo":3427},{"name":"Shin Jinseo","date":"2014-11-15","elo":3447},{"name":"Shin Jinseo","date":"2015-04-15","elo":3476},{"name":"Shin Jinseo","date":"2015-09-15","elo":3507},{"name":"Shin Jinseo","date":"2016-02-15","elo":3539},{"name":"Shin Jinseo","date":"2016-07-15","elo":3573},{"name":"Shin Jinseo","date":"2016-11-15","elo":3600},{"name":"Shin Jinseo","date":"2017-04-15","elo":3622},{"name":"Shin Jinseo","date":"2017-11-15","elo":3639},{"name":"Shin Jinseo","date":"2018-04-15","elo":3651},{"name":"Shin Jinseo","date":"2018-09-15","elo":3671},{"name":"Shin Jinseo","date":"2019-02-15","elo":3686},{"name":"Shin Jinseo","date":"2019-07-15","elo":3692},{"name":"Shin Jinseo","date":"2019-11-09","elo":3692}
]},
"mark":{"type":"line","interpolate":"monotone","strokeWidth":1.2},
"encoding":{
"x":{"field":"date","type":"temporal","title":null,
 "scale":{"type":"utc","domain":[{"year":1980,"month":1,"date":10,"utc":true},{"year":2019,"month":11,"date":9,"utc":true}]},
 "axis":{"values":[{"year":1980,"month":1,"date":10,"utc":true},{"year":1982,"month":9,"date":4,"utc":true},{"year":1985,"month":11,"date":5,"utc":true},{"year":1989,"month":1,"date":5,"utc":true},{"year":1992,"month":3,"date":8,"utc":true},{"year":1995,"month":5,"date":9,"utc":true},{"year":1998,"month":7,"date":10,"utc":true},{"year":2001,"month":9,"date":9,"utc":true},{"year":2004,"month":11,"date":9,"utc":true},{"year":2008,"month":1,"date":11,"utc":true},{"year":2011,"month":3,"date":13,"utc":true},{"year":2014,"month":5,"date":14,"utc":true},{"year":2017,"month":7,"date":14,"utc":true},{"year":2019,"month":11,"date":9,"utc":true}],
  "format":"%Y-%m-%d","labelFontSize":6.3,"labelColor":{"condition":{"test":"datum.label=='1980-01-10'||datum.label=='2019-11-09'","value":"#000"},"value":"#333"},
  "labelFontWeight":{"condition":{"test":"datum.label=='1980-01-10'||datum.label=='2019-11-09'","value":"bold"},"value":"normal"},
  "labelFlush":false,"labelOverlap":false,"domain":false,"ticks":false,"labelPadding":3,
  "grid":true,"gridColor":"#e6e6e6","gridWidth":1}},
"y":{"field":"elo","type":"quantitative","title":null,
 "scale":{"domain":[2960.22,3692.21],"nice":false,"zero":false},
 "axis":{"values":[2960.22,3000,3050,3100,3150,3200,3250,3300,3350,3400,3450,3500,3550,3600,3650,3692.21],
  "format":".2~f","labelFontSize":6.3,"labelColor":{"condition":{"test":"datum.label=='2960.22'||datum.label=='3692.21'","value":"#000"},"value":"#333"},
  "labelFontWeight":{"condition":{"test":"datum.label=='2960.22'||datum.label=='3692.21'","value":"bold"},"value":"normal"},
  "labelFlush":false,"labelOverlap":false,"domain":true,"domainColor":"#999","ticks":false,"labelPadding":3,
  "grid":true,"gridColor":"#e6e6e6","gridWidth":1}},
"color":{"field":"name","type":"nominal",
 "scale":{"domain":["Lee Sedol","Lee Changho","Yoo Changhyuk","Kobayashi Koichi","Cho Chikun","Nie Weiping","Cho Hunhyun","Otake Hideo","Gu Li","Kato Masao","Kong Jie","Shi Yue","Park Junghwan","Ke Jie","Shin Jinseo"],
  "range":["#1f77b4","#aec7e8","#ff7f0e","#ffbb78","#2ca02c","#98df8a","#d62728","#ff9896","#9467bd","#c5b0d5","#8c564b","#c49c94","#e377c2","#f7b6d2","#7f7f7f"]},
 "legend":{"title":null,"orient":"none","direction":"horizontal","legendX":198.5,"legendY":-29,
  "symbolType":"circle","symbolSize":49,"labelFontSize":6.3,"labelColor":"#333","labelOffset":4,"columnPadding":7.2,
  "encode":{"symbols":{"update":{"fill":{"scale":"color","field":"value"},"strokeWidth":{"value":0},"opacity":{"value":1}}}}}}
}
}
